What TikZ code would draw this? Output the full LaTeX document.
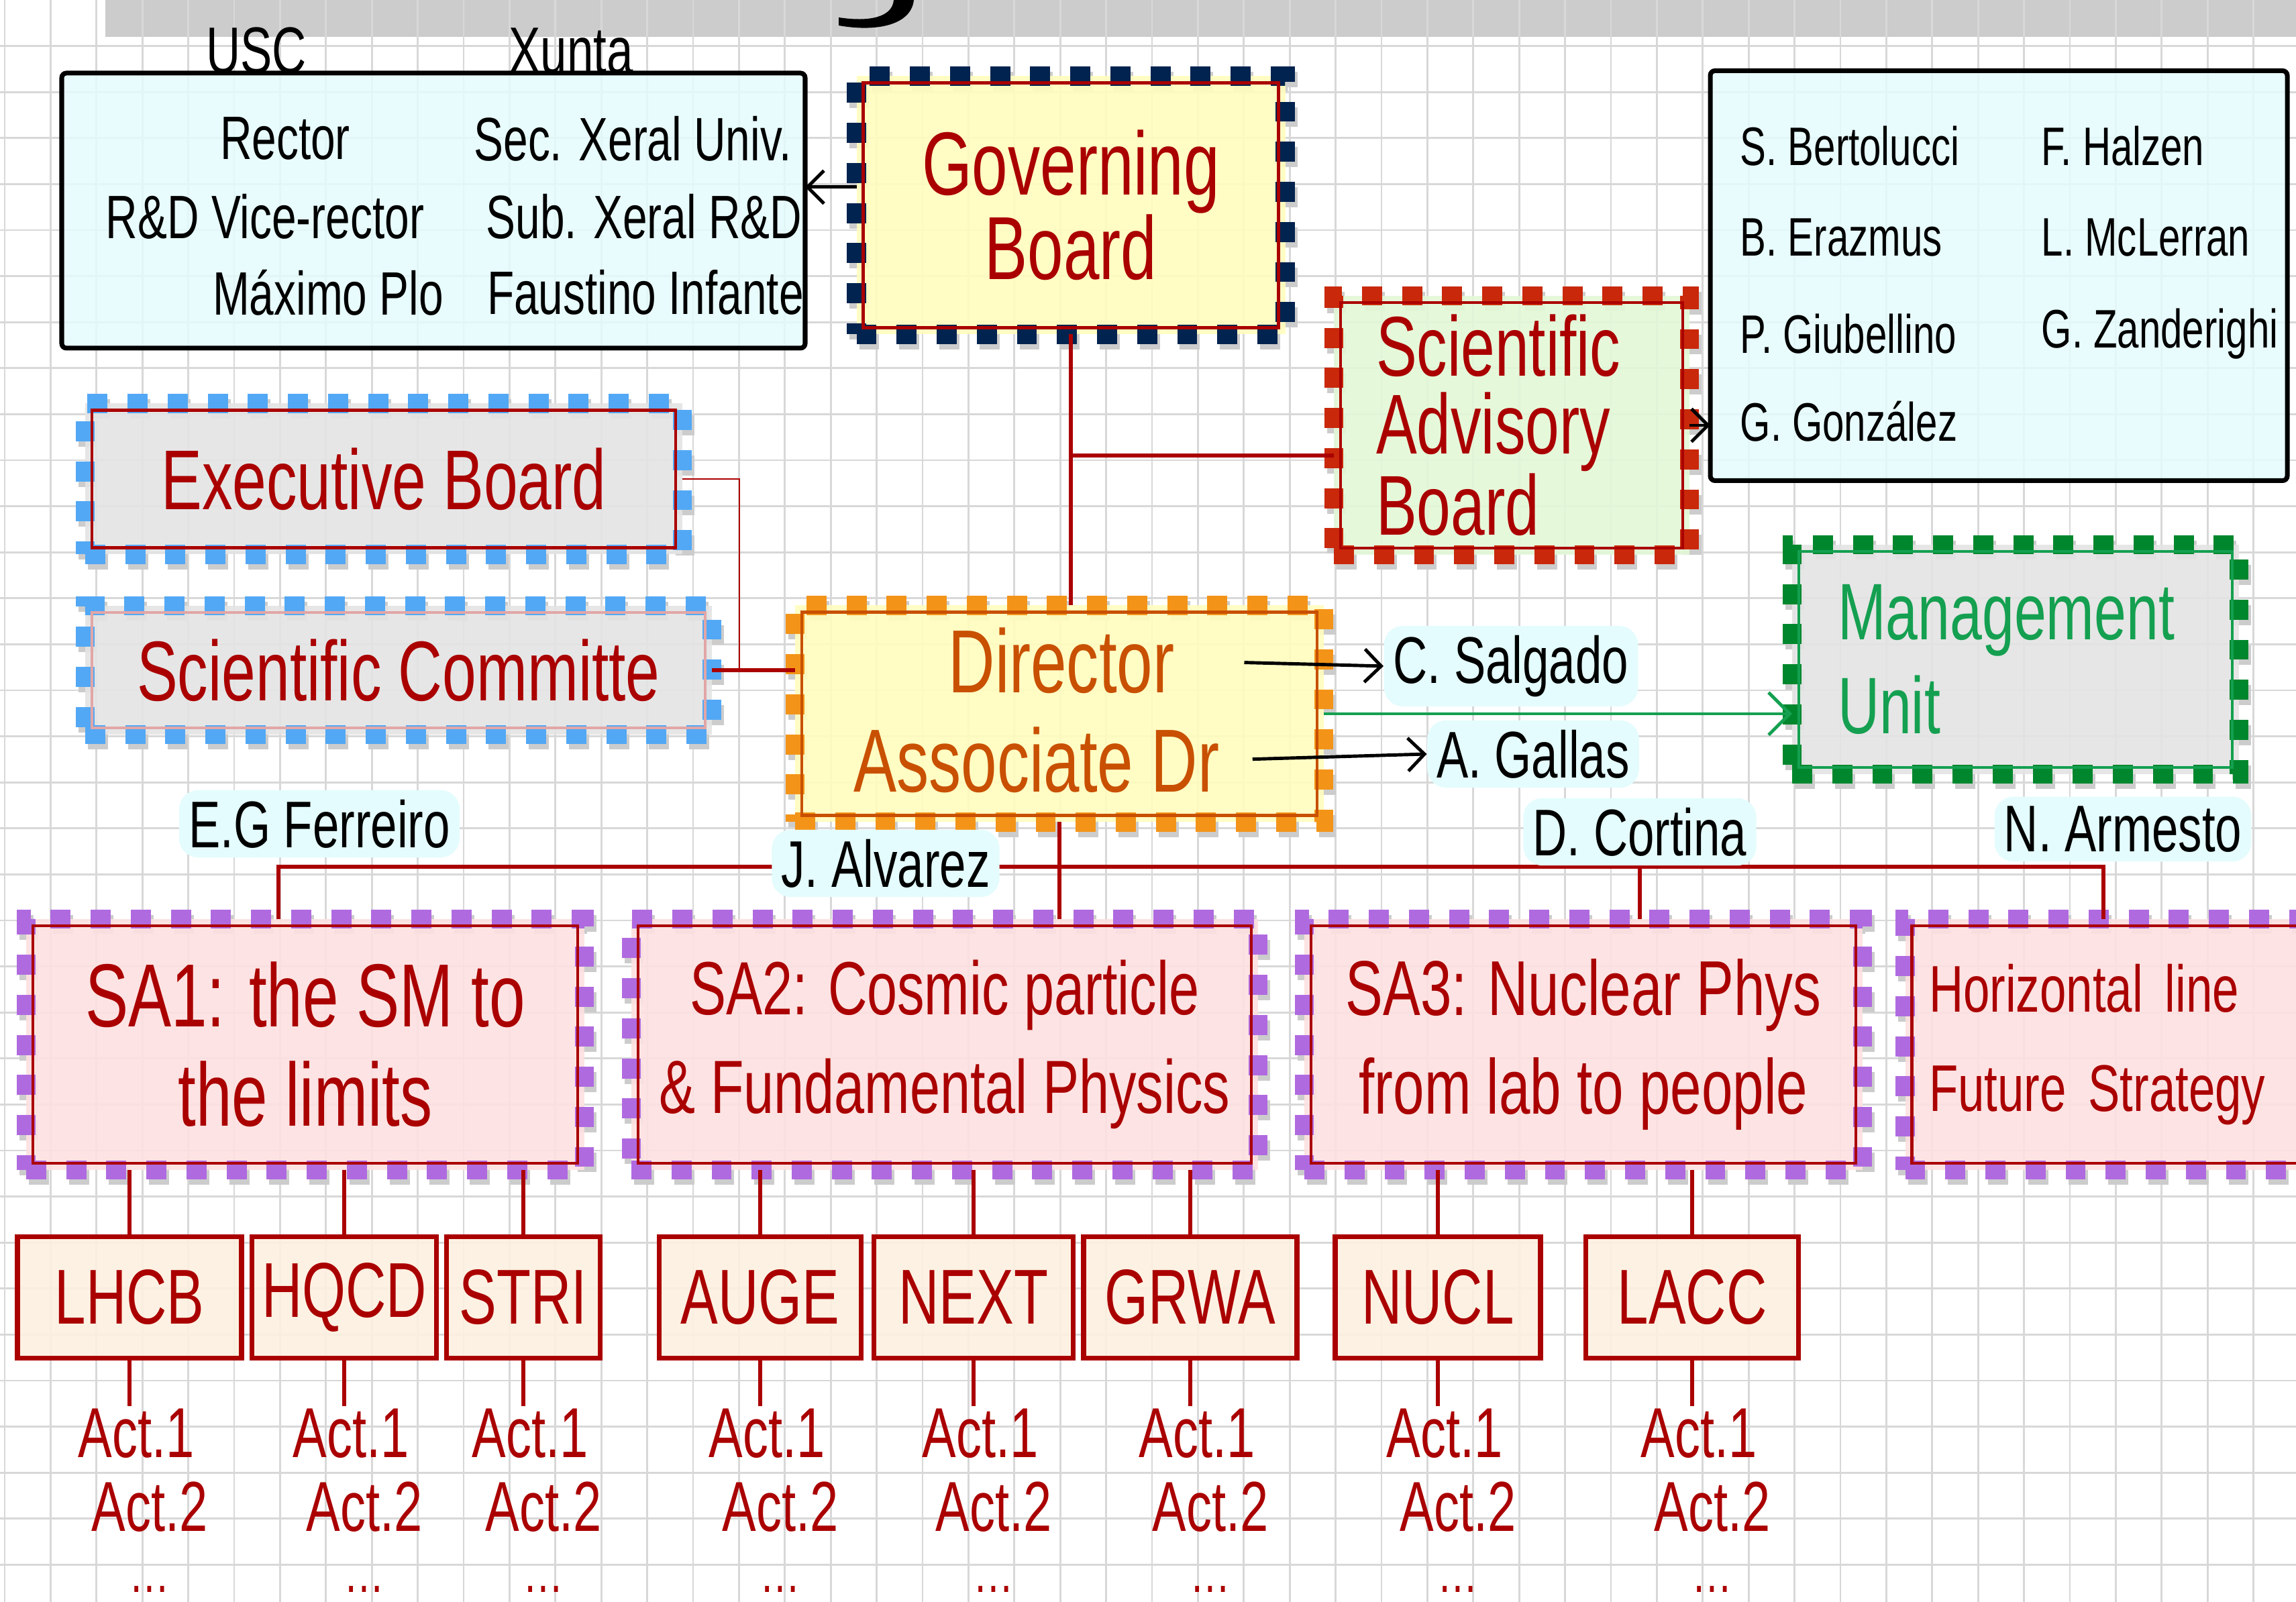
\documentclass[tikz,border=0pt]{standalone}
\usepackage{fontspec}
\setmainfont[FakeStretch=0.72]{Liberation Sans}
\usetikzlibrary{arrows.meta,positioning}

\definecolor{gridgray}{RGB}{216,216,216}
\definecolor{bargray}{RGB}{204,204,204}
\definecolor{inkred}{RGB}{170,0,0}
\definecolor{inkorange}{RGB}{200,80,0}
\definecolor{inkgreen}{RGB}{20,160,80}
\definecolor{navysq}{RGB}{0,35,79}
\definecolor{redsq}{RGB}{201,40,10}
\definecolor{bluesq}{RGB}{82,168,245}
\definecolor{orangesq}{RGB}{243,148,24}
\definecolor{greensq}{RGB}{0,135,45}
\definecolor{purplesq}{RGB}{176,106,224}
\definecolor{yellowbg}{RGB}{255,253,190}
\definecolor{cyanbg}{RGB}{228,252,253}
\definecolor{greenbg}{RGB}{228,248,215}
\definecolor{graybg}{RGB}{228,228,228}
\definecolor{pinkbg}{RGB}{253,224,224}
\definecolor{beigebg}{RGB}{253,240,224}

\tikzset{
  gridln/.style={draw=gridgray, line width=0.8pt},
  board/.style={line width=8pt, dash pattern=on 8.5pt off 8.5pt, inner sep=0pt, outer sep=0pt,
    align=center, fill opacity=0.9, text opacity=1,
    preaction={draw=black!20, line width=8pt, dash pattern=on 8.5pt off 8.5pt,
      transform canvas={shift={(0.04,-0.08)}}}},
  infobox/.style={draw=black, line width=2pt, fill=cyanbg, fill opacity=0.85, text opacity=1,
    inner sep=0pt, outer sep=0pt, rounded corners=2pt},
  subbox/.style={draw=inkred, line width=2.2pt, fill=beigebg, fill opacity=0.9, text opacity=1,
    text=inkred, minimum height=1.81cm, inner sep=0pt, outer sep=0pt,
    font=\fontsize{33}{33}\selectfont},
  actlabel/.style={text=inkred, font=\fontsize{30}{30}\selectfont, inner sep=1pt},
  dirlabel/.style={text=inkorange, font=\fontsize{38}{38}\selectfont, inner sep=1pt},
  namelabel/.style={text=black, font=\fontsize{28}{28}\selectfont, inner sep=2pt},
  boxentry/.style={text=black, font=\fontsize{26}{26}\selectfont, inner sep=2pt},
  sabname/.style={text=black, font=\fontsize{23}{23}\selectfont, inner sep=2pt, anchor=west},
  hlname/.style={namelabel, fill=cyanbg, rounded corners=8pt, inner sep=4pt},
  link/.style={draw=inkred, line width=1.6pt},
  thinlink/.style={draw=inkred, line width=0.7pt},
  pointer/.style={draw=black, line width=1.4pt, -{Straight Barb[length=7pt]}},
  greenptr/.style={draw=inkgreen, line width=1.4pt, -{Straight Barb[length=9pt]}}
}

\begin{document}
\begin{tikzpicture}
\useasboundingbox (0,0) rectangle (34.22,23.88);
\clip (0,0) rectangle (34.22,23.88);
\fill[white] (0,0) rectangle (34.22,23.88);

% squared paper
\fill[bargray] (1.57,23.33) rectangle (34.22,23.88);
\foreach \i in {0,...,50}
  \draw[gridln] ({0.07+0.684*\i},0) -- ++(0,23.88);
\foreach \j in {0,...,35}
  \draw[gridln] (0,{23.88-0.686*(\j+1)}) -- ++(34.22,0);
\fill[black] (13.32,23.88) .. controls (13.30,23.62) and (12.95,23.55) .. (12.50,23.62)
  -- (12.50,23.50) .. controls (13.05,23.40) and (13.58,23.50) .. (13.62,23.88) -- cycle;

% USC / Xunta
\node[infobox, minimum width=11.08cm, minimum height=4.10cm] (info1) at (6.46,20.74) {};
\node[namelabel] (usc) at (3.82,23.12) {USC};
\node[namelabel] (xunta) at (8.51,23.12) {Xunta};
\node[boxentry] (rector) at (4.25,21.81) {Rector};
\node[boxentry] (vicerector) at (3.95,20.65) {R\&D Vice-rector};
\node[boxentry] (maximo) at (4.89,19.52) {Máximo Plo};
\node[boxentry] (secxeral) at (9.43,21.81) {Sec. Xeral Univ.};
\node[boxentry] (subxeral) at (9.60,20.65) {Sub. Xeral R\&D};
\node[boxentry] (faustino) at (9.62,19.52) {Faustino Infante};

% advisory names
\node[infobox, minimum width=8.6cm, minimum height=6.11cm] (names) at (29.79,19.77) {};
\node[sabname] (bertolucci) at (25.86,21.70) {S. Bertolucci};
\node[sabname] (erazmus) at (25.86,20.34) {B. Erazmus};
\node[sabname] (giubellino) at (25.86,18.90) {P. Giubellino};
\node[sabname] (gonzalez) at (25.86,17.60) {G. González};
\node[sabname] (halzen) at (30.35,21.70) {F. Halzen};
\node[sabname] (mclerran) at (30.35,20.34) {L. McLerran};
\node[sabname] (zanderighi) at (30.35,18.90) {G. Zanderighi};

% boards
\node[board, draw=navysq, fill=yellowbg, minimum width=6.39cm, minimum height=3.85cm,
  text=inkred, font=\fontsize{38}{36}\selectfont] (gb) at (15.96,20.82) {Governing\\Board};
\node[board, draw=redsq, fill=greenbg, minimum width=5.30cm, minimum height=3.86cm,
  text=inkred, text width=4.04cm, align=left, font=\fontsize{36}{33}\selectfont]
  (sab) at (22.53,17.54) {Scientific\\Advisory\\Board};
\node[board, draw=bluesq, fill=graybg, minimum width=8.90cm, minimum height=2.25cm,
  text=inkred, font=\fontsize{36}{36}\selectfont] (eb) at (5.72,16.74) {Executive Board};
\node[board, draw=bluesq, fill=graybg, minimum width=9.34cm, minimum height=1.92cm,
  text=inkred, font=\fontsize{36}{36}\selectfont] (sc) at (5.94,13.89) {Scientific Committe};
\node[board, draw=orangesq, fill=yellowbg, minimum width=7.88cm, minimum height=3.23cm] (dir) at (15.79,13.24) {};
\node[dirlabel] (dirtxt) at (15.82,14.03) {Director};
\node[dirlabel] (adtxt) at (15.45,12.55) {Associate Dr};
\node[board, draw=greensq, fill=graybg, minimum width=6.66cm, minimum height=3.42cm,
  text=inkgreen, text width=5.3cm, align=left, font=\fontsize{34}{40}\selectfont]
  (mu) at (30.04,14.05) {Management\\Unit};

% scientific areas
\node[board, draw=purplesq, fill=pinkbg, minimum width=8.32cm, minimum height=3.74cm,
  text=inkred, font=\fontsize{38}{42}\selectfont] (sa1) at (4.55,8.31) {SA1: the SM to\\the limits};
\node[board, draw=purplesq, fill=pinkbg, minimum width=9.34cm, minimum height=3.74cm,
  text=inkred, font=\fontsize{32}{42}\selectfont] (sa2) at (14.08,8.31) {SA2: Cosmic particle\\\& Fundamental Physics};
\node[board, draw=purplesq, fill=pinkbg, minimum width=8.32cm, minimum height=3.74cm,
  text=inkred, font=\fontsize{33}{42}\selectfont] (sa3) at (23.60,8.31) {SA3: Nuclear Phys\\from lab to people};
\node[board, draw=purplesq, fill=pinkbg, minimum width=8.31cm, minimum height=3.74cm,
  text=inkred, text width=7.6cm, align=left, font=\fontsize{28}{42}\selectfont]
  (hz) at (32.55,8.31) {Horizontal line\\Future Strategy};

% hand-drawn inner frames
\foreach \n/\c in {gb/inkred, sab/inkred, eb/inkred, sc/inkred!35, dir/inkorange, mu/inkgreen,
    sa1/inkred, sa2/inkred, sa3/inkred, hz/inkred}
  \draw[\c, line width=1.2pt] ([shift={(0.1,0.1)}]\n.south west) rectangle ([shift={(-0.1,-0.1)}]\n.north east);

% groups
\node[subbox, minimum width=3.34cm] (lhcb) at (1.93,4.54) {LHCB};
\node[subbox, minimum width=2.75cm] (hqcd) at (5.13,4.54) {HQCD};
\node[subbox, minimum width=2.29cm] (stri) at (7.80,4.54) {STRI};
\node[subbox, minimum width=3.01cm] (auge) at (11.33,4.54) {AUGE};
\node[subbox, minimum width=2.97cm] (next) at (14.51,4.54) {NEXT};
\node[subbox, minimum width=3.18cm] (grwa) at (17.74,4.54) {GRWA};
\node[subbox, minimum width=3.06cm] (nucl) at (21.43,4.54) {NUCL};
\node[subbox, minimum width=3.17cm] (lacc) at (25.22,4.54) {LACC};

\foreach \s/\a in {lhcb/sa1, hqcd/sa1, stri/sa1, auge/sa2, next/sa2, grwa/sa2, nucl/sa3, lacc/sa3}{
  \draw[link] (\s.north) -- (\s.north |- \a.south);
  \node[actlabel] (\s-a1) at ([shift={(0.1,-2.03)}]\s.center) {Act.1};
  \node[actlabel] (\s-a2) at ([shift={(0.3,-3.12)}]\s.center) {Act.2};
  \node[actlabel, anchor=base, inner sep=0pt, font=\fontsize{24}{24}\selectfont] (\s-a3) at ([shift={(0.3,-4.40)}]\s.center) {\dots};
  \draw[link] (\s.south) -- (\s.south |- \s-a1.north);
}

% connections
\draw[pointer] ([yshift=0.27cm]gb.west) -- ([yshift=0.27cm]gb.west -| info1.east);
\draw[pointer] (sab.east) -- (sab.east -| names.west);
\draw[link] (gb.south) -- (gb.south |- dir.north);
\draw[link] ([yshift=-0.45cm]gb.south |- sab.west) -- ([yshift=-0.45cm]sab.west);
\draw[thinlink] (eb.east) -- ++(0.85,0) |- (sc.east -| dir.west);
\draw[link] (sc.east) -- (sc.east -| dir.west);
\draw[greenptr] (dir.east) -- (dir.east -| mu.west);
\draw[link] (dir.south) -- (dir.south |- sa2.north);
\draw[link] ([xshift=-0.4cm]sa1.north) -- ++(0,0.78) -| ([xshift=-1.2cm]hz.north);
\draw[link] ([xshift=0.84cm]sa3.north) -- ++(0,0.78);

% people
\node[hlname] (salgado) at (22.52,13.95) {C. Salgado};
\node[hlname] (gallas) at (22.85,12.64) {A. Gallas};
\draw[pointer, shorten <=1.0cm] (dirtxt.east) -- (salgado.west);
\draw[pointer, shorten <=0.45cm] (adtxt.east) -- (gallas.west);
\node[hlname] (ferreiro) at (4.76,11.60) {E.G Ferreiro};
\node[hlname] (alvarez) at (13.20,11.01) {J. Alvarez};
\node[hlname] (cortina) at (24.44,11.48) {D. Cortina};
\node[hlname] (armesto) at (31.64,11.52) {N. Armesto};
\end{tikzpicture}
\end{document}
